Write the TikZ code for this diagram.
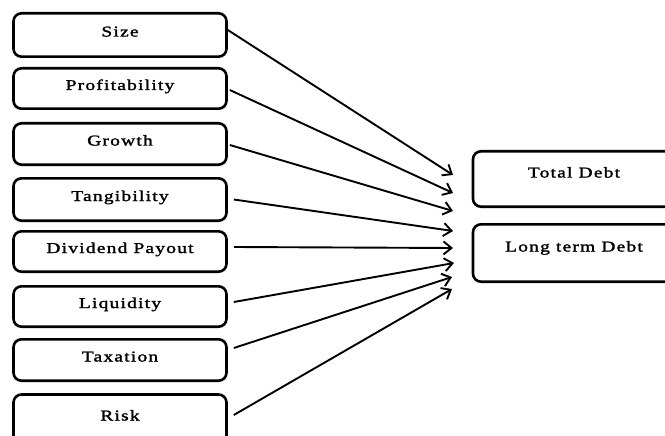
\documentclass[tikz,border=0pt]{standalone}
\usepackage{fontspec}
\setmainfont{Liberation Serif}[LetterSpace=8, FakeBold=1.6, FakeStretch=1.3]
\usetikzlibrary{arrows.meta}
\begin{document}
\begin{tikzpicture}[x=1pt,y=-1pt,
  box/.style={draw, line width=2.6pt, rounded corners=8pt, inner sep=0pt,
    minimum width=213pt, font=\fontsize{15}{18}\selectfont,
    text height=9pt, text depth=6pt},
  outbox/.style={draw, line width=2.6pt, rounded corners=8pt, inner sep=0pt,
    minimum width=202pt, font=\fontsize{15}{18}\selectfont,
    text height=8pt, text depth=11pt},
  conn/.style={line width=1.9pt, -{Straight Barb[length=8pt,width=13pt]}}]
\useasboundingbox[clip] (0,0) rectangle (665,436);
\fill[white] (0,0) rectangle (665,436);

\node[box, minimum height=43.4pt] (size)   at (120,35)    {Size};
\node[box, minimum height=40.4pt] (prof)   at (120,88.5)  {Profitability};
\node[box, minimum height=41.4pt] (growth) at (120,144)   {Growth};
\node[box, minimum height=42.4pt] (tang)   at (120,199.5) {Tangibility};
\node[box, minimum height=40.4pt] (div)    at (120,251.5) {Dividend Payout};
\node[box, minimum height=40.4pt] (liq)    at (120,306.5) {Liquidity};
\node[box, minimum height=41.4pt] (tax)    at (120,360)   {Taxation};
\node[box, minimum height=49pt]   (risk)   at (120,419)   {Risk};

\node[outbox, minimum height=55.4pt] (td) at (574,179) {Total Debt};
\node[outbox, minimum height=57.4pt] (ltd) at (574,253) {Long term Debt};

\coordinate (t1) at (453,175);
\coordinate (t2) at (453,193);
\coordinate (t3) at (453,211);
\coordinate (t4) at (453,231);
\coordinate (t5) at (453,248);
\coordinate (t6) at (454,263);
\coordinate (t7) at (452,277);
\coordinate (t8) at (452,289);

\draw[conn] ([xshift=0pt,yshift=5pt]size.east) -- (t1);
\draw[conn] ([xshift=2pt,yshift=-1.5pt]prof.east) -- (t2);
\draw[conn] ([xshift=2pt,yshift=-1pt]growth.east) -- (t3);
\draw[conn] ([xshift=6pt,yshift=0pt]tang.east) -- (t4);
\draw[conn] ([xshift=6pt,yshift=4.5pt]div.east) -- (t5);
\draw[conn] ([xshift=6pt,yshift=4.5pt]liq.east) -- (t6);
\draw[conn] ([xshift=6pt,yshift=12pt]tax.east) -- (t7);
\draw[conn] ([xshift=6pt,yshift=4pt]risk.east) -- (t8);
\end{tikzpicture}
\end{document}
